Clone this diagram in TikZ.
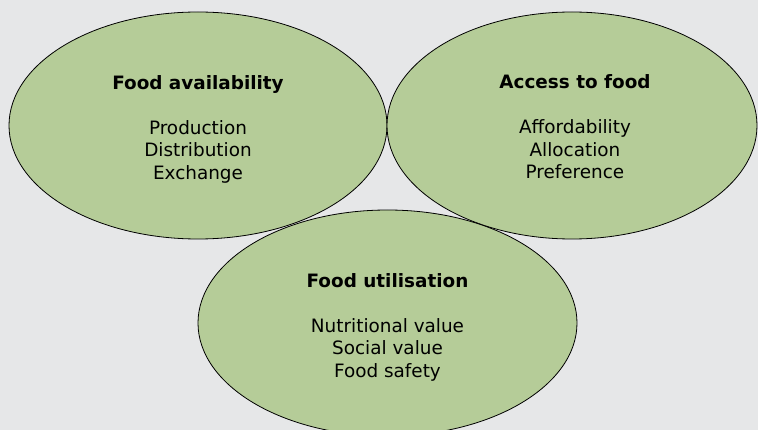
\documentclass[tikz,border=0pt]{standalone}
\usepackage{fontspec}
\setmainfont{DejaVu Sans}
\usetikzlibrary{shapes.geometric}
\definecolor{pillar}{HTML}{B5CC98}
\definecolor{backdrop}{HTML}{E6E7E8}
\begin{document}
\begin{tikzpicture}[
    x=1pt, y=-1pt,
    pillar/.style={ellipse, draw=black, line width=0.8pt, fill=pillar, inner sep=0pt},
    caption/.style={align=center, inner sep=0pt, font=\fontsize{18.4}{22.5}\selectfont}
]
\fill[backdrop] (0,0) rectangle (758,430);
\useasboundingbox (0,0) rectangle (758,430);

\node[pillar, minimum width=378pt, minimum height=227pt] (avail) at (198,125.5) {};
\node[pillar, minimum width=370pt, minimum height=227pt] (access) at (572,125.5) {};
\node[pillar, minimum width=379pt, minimum height=226pt] (util) at (387.5,323) {};

\node[caption, yshift=-3.5pt] (avail-text) at (avail)
    {\textbf{Food availability}\\[22.5pt]Production\\Distribution\\Exchange};
\node[caption, xshift=3pt, yshift=-1.5pt] (access-text) at (access)
    {\textbf{Access to food}\\[22.5pt]Affordability\\Allocation\\Preference};
\node[caption, yshift=-4pt] (util-text) at (util)
    {\textbf{Food utilisation}\\[22.5pt]Nutritional value\\Social value\\Food safety};
\end{tikzpicture}
\end{document}
